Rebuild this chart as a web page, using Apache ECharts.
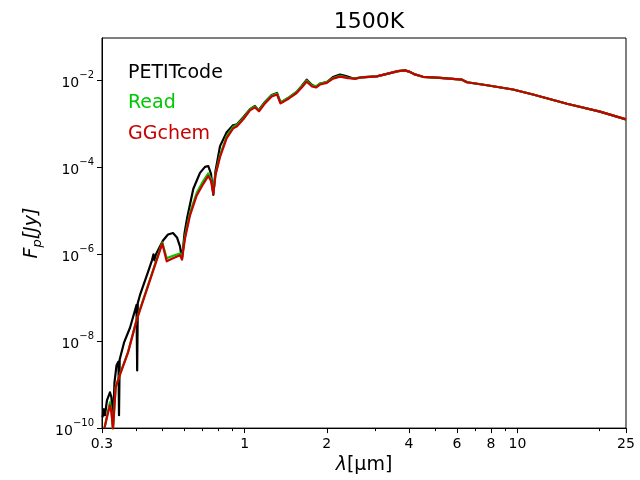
<!DOCTYPE html>
<html>
<head>
<meta charset="utf-8">
<script src="https://cdn.jsdelivr.net/npm/echarts@6/dist/echarts.min.js"></script>
<style>html,body{margin:0;padding:0;background:#fff}#c{width:640px;height:480px}</style>
</head>
<body>
<div id="c"></div>
<script>
// Wavelength (micron) and planet flux (Jy)
const lamPetit = [0.3013,0.3051,0.3077,0.3128,0.3208,0.3249,0.3291,0.3333,0.3390,0.3448,
  0.3463,0.3483,0.3612,0.3800,0.4014,0.4037,0.4058,0.4135,0.4422,0.4574,
  0.4633,0.4671,0.4732,0.5020,0.5236,0.5463,0.5649,0.5794,0.5893,0.6019,
  0.6148,0.6485,0.6860,0.7155,0.7359,0.7528,0.7676,0.7820,0.8124,0.8594,
  0.9064,0.9376,0.9888,1.046,1.091,1.124,1.187,1.256,1.314,1.353,
  1.394,1.454,1.551,1.619,1.689,1.766,1.826,1.889,2.000,2.108,
  2.236,2.352,2.475,2.538,2.692,3.049,3.411,3.649,3.870,4.004,
  4.177,4.506,5.201,6.262,6.533,7.734,9.632,11.40,15.19,20.07,25.0];
const fluxPetit = [1.78e-10,2.72e-10,1.98e-10,4.37e-10,6.65e-10,5.11e-10,1.17e-10,1.12e-9,2.75e-9,3.40e-9,
  1.98e-10,3.78e-9,9.24e-9,2.04e-8,6.83e-8,2.12e-9,7.59e-8,1.16e-7,3.88e-7,7.29e-7,
  1.0e-6,7.29e-7,1.0e-6,2.09e-6,2.86e-6,3.10e-6,2.45e-6,1.52e-6,7.69e-7,3.02e-6,
  6.65e-6,3.23e-5,7.49e-5,1.03e-4,1.08e-4,7.10e-5,2.35e-5,8.32e-5,3.10e-4,6.48e-4,
  9.36e-4,9.87e-4,1.43e-3,2.2e-3,2.61e-3,2.06e-3,3.23e-3,4.67e-3,5.18e-3,3.14e-3,
  3.49e-3,4.09e-3,5.46e-3,7.49e-3,1.05e-2,7.89e-3,7.29e-3,8.54e-3,9.24e-3,1.20e-2,
  1.37e-2,1.27e-2,1.14e-2,1.11e-2,1.19e-2,1.25e-2,1.48e-2,1.65e-2,1.72e-2,1.61e-2,
  1.41e-2,1.22e-2,1.15e-2,1.05e-2,9.14e-3,7.81e-3,6.22e-3,4.79e-3,2.93e-3,1.93e-3,1.28e-3];

const lamModel = [0.3064,0.3128,0.3208,0.3249,0.3291,0.3328,0.3367,0.3492,0.3736,0.4021,
  0.4498,0.4990,0.5180,0.5463,0.5794,0.5893,0.6045,0.6306,0.6673,0.7054,
  0.7359,0.7528,0.7676,0.7820,0.8124,0.8594,0.9087,0.9376,0.9888,1.046,
  1.091,1.129,1.187,1.256,1.314,1.353,1.394,1.454,1.551,1.619,
  1.689,1.766,1.826,1.889,2.000,2.108,2.236,2.393,2.538,2.692,
  3.049,3.411,3.649,3.870,4.004,4.177,4.506,5.201,6.262,6.533,
  7.734,9.632,11.40,15.19,20.07,25.0];
const fluxRead = [1.0e-10,1.85e-10,3.93e-10,2.5e-10,9.5e-11,9.5e-11,8.9e-10,1.75e-9,5.6e-9,3.2e-8,
  2.65e-7,1.88e-6,8.10e-7,9.24e-7,1.05e-6,8.54e-7,2.58e-6,9.12e-6,2.61e-5,4.91e-5,
  7.29e-5,5.46e-5,2.6e-5,7.10e-5,1.93e-4,5.25e-4,8.65e-4,9.61e-4,1.35e-3,2.17e-3,
  2.55e-3,2.06e-3,3.14e-3,4.54e-3,5.05e-3,3.14e-3,3.49e-3,4.09e-3,5.46e-3,7.29e-3,
  1.0e-2,7.69e-3,7.29e-3,8.54e-3,9.24e-3,1.14e-2,1.28e-2,1.16e-2,1.12e-2,1.20e-2,
  1.25e-2,1.48e-2,1.65e-2,1.72e-2,1.61e-2,1.41e-2,1.22e-2,1.15e-2,1.05e-2,9.14e-3,
  7.81e-3,6.22e-3,4.79e-3,2.93e-3,1.93e-3,1.28e-3];
const fluxGGchem = [1.0e-10,1.78e-10,3.36e-10,2.32e-10,9.5e-11,9.5e-11,8.65e-10,1.71e-9,5.46e-9,3.10e-8,
  2.55e-7,1.78e-6,6.92e-7,8.10e-7,9.48e-7,7.69e-7,2.32e-6,7.91e-6,2.27e-5,4.20e-5,
  6.39e-5,4.91e-5,2.48e-5,6.74e-5,1.74e-4,4.72e-4,7.99e-4,8.89e-4,1.28e-3,2.06e-3,
  2.41e-3,1.96e-3,2.98e-3,4.31e-3,4.79e-3,2.98e-3,3.31e-3,3.88e-3,5.18e-3,6.92e-3,
  9.48e-3,7.29e-3,6.92e-3,8.10e-3,8.86e-3,1.11e-2,1.23e-2,1.14e-2,1.11e-2,1.19e-2,
  1.25e-2,1.48e-2,1.65e-2,1.72e-2,1.61e-2,1.41e-2,1.22e-2,1.15e-2,1.05e-2,9.14e-3,
  7.81e-3,6.22e-3,4.79e-3,2.93e-3,1.93e-3,1.28e-3];

const seriesNames = ['PETITcode','Read','GGchem'];
const seriesColors = ['#000000','#00c800','#c80000'];
const xMajorTicks = [0.3,1,2,4,6,8,10,25];
const xMinorTicks = [0.4,0.5,0.6,0.7,0.8,0.9,3,5,7,9,20];
const yMajorExp = [-10,-8,-6,-4,-2];
const xRange = [0.3,25];
const yRangeExp = [-10,-1.02];

const FONT = 'DejaVu Sans';
const lg = Math.log10;
const toPts = (lam, flux) => lam.map((l,i) => [lg(l), lg(flux[i])]);

const chart = echarts.init(document.getElementById('c'), null, {renderer:'canvas'});
const xMin = lg(xRange[0]), xMax = lg(xRange[1]);

const mkSeries = (name, color, pts) => ({
  name, type:'line', data: pts, showSymbol:false, symbol:'none',
  lineStyle:{width:2.2, color, join:'round'}, itemStyle:{color},
  emphasis:{disabled:true}, animation:false, clip:true, z:2
});

chart.setOption({
  animation:false,
  backgroundColor:'#ffffff',
  title:{text:'1500K', left:364, top:6, textAlign:'center',
    textStyle:{fontSize:22, fontWeight:'normal', color:'#000', fontFamily:FONT}},
  grid:{left:102, right:14, top:38, bottom:49, show:true, borderColor:'#000', borderWidth:1, containLabel:false},
  legend:{orient:'vertical', left:118, top:58, icon:'none', itemWidth:0, itemHeight:14, itemGap:10.5,
    selectedMode:false,
    textStyle:{fontSize:19, fontFamily:FONT, lineHeight:20},
    data: seriesNames.map((n,i)=>({name:n, textStyle:{color:seriesColors[i]}}))},
  xAxis:[{
    type:'value', min:xMin, max:xMax, position:'bottom',
    axisLine:{show:true, onZero:false, lineStyle:{color:'#000', width:1}},
    axisTick:{show:true, length:5, customValues: xMajorTicks.map(v=>lg(v)), lineStyle:{color:'#000', width:1}},
    axisLabel:{show:true, customValues: xMajorTicks.map(v=>lg(v)), margin:9, fontSize:14, color:'#000', fontFamily:FONT,
      formatter: v => String(parseFloat(Math.pow(10, v).toPrecision(3)))},
    splitLine:{show:false},
    name:'{i|λ}{r|[μm]}', nameLocation:'middle', nameGap:26,
    nameTextStyle:{color:'#000', rich:{
      i:{fontSize:19, fontStyle:'italic', fontFamily:FONT, color:'#000'},
      r:{fontSize:19, fontFamily:FONT, color:'#000'}}}
  },{
    type:'value', min:xMin, max:xMax, position:'bottom', offset:0,
    axisLine:{show:false},
    axisTick:{show:true, length:3, customValues: xMinorTicks.map(v=>lg(v)), lineStyle:{color:'#000', width:1}},
    axisLabel:{show:false}, splitLine:{show:false}
  }],
  yAxis:{
    type:'value', min:yRangeExp[0], max:yRangeExp[1],
    axisLine:{show:true, onZero:false, lineStyle:{color:'#000', width:1}},
    axisTick:{show:true, length:5, customValues: yMajorExp, lineStyle:{color:'#000', width:1}},
    axisLabel:{show:true, customValues: yMajorExp, margin:8, color:'#000',
      formatter: v => '{b|10}{s|\u2212' + Math.abs(Math.round(v)) + '}',
      rich:{
        b:{fontSize:14, fontFamily:FONT, color:'#000', lineHeight:20, verticalAlign:'bottom'},
        s:{fontSize:10, fontFamily:FONT, color:'#000', lineHeight:20, verticalAlign:'top'}}},
    splitLine:{show:false},
    name:'{i|F}{s|p}{i|[Jy]}', nameLocation:'middle', nameGap:56, nameRotate:90,
    nameTextStyle:{color:'#000', rich:{
      i:{fontSize:19, fontStyle:'italic', fontFamily:FONT, color:'#000', lineHeight:24, verticalAlign:'middle'},
      s:{fontSize:13, fontStyle:'italic', fontFamily:FONT, color:'#000', lineHeight:24, verticalAlign:'bottom'}}}
  },
  series:[
    mkSeries(seriesNames[0], seriesColors[0], toPts(lamPetit, fluxPetit)),
    mkSeries(seriesNames[1], seriesColors[1], toPts(lamModel, fluxRead)),
    mkSeries(seriesNames[2], seriesColors[2], toPts(lamModel, fluxGGchem))
  ]
});
</script>
</body>
</html>
